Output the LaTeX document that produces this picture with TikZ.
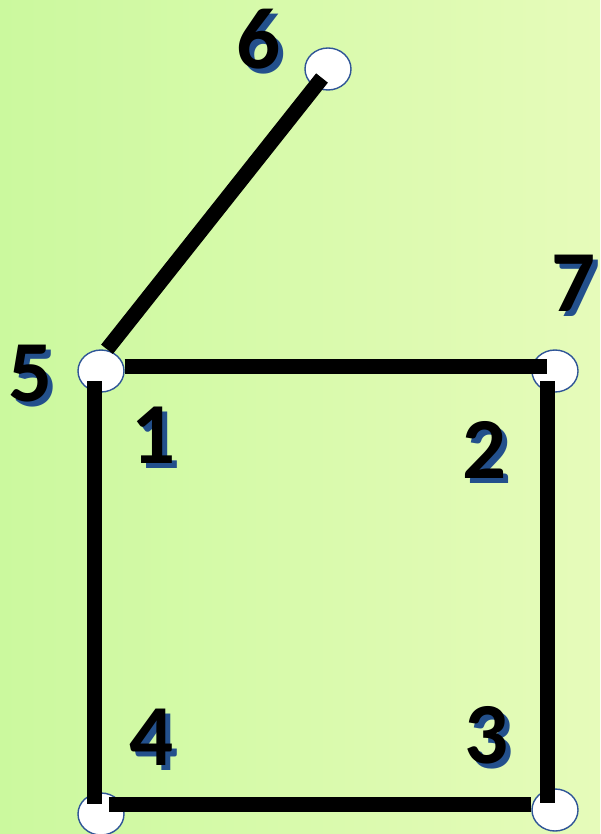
\documentclass[tikz,border=0pt]{standalone}
\usepackage{fontspec}
\setmainfont{Carlito}
\usetikzlibrary{positioning,shapes.geometric}
\definecolor{bgleft}{HTML}{CBF99E}
\definecolor{bgmid}{HTML}{F3FEC8}
\definecolor{bgright}{HTML}{E6FBBA}
\definecolor{vertexline}{HTML}{2F5597}
\definecolor{shadowblue}{HTML}{23508C}
% digit with a blue drop shadow, kept in one text
\newcommand{\shadownum}[1]{\makebox[0pt][l]{\hspace{5pt}\raisebox{-5pt}{\textcolor{shadowblue}{#1}}}#1}

\begin{document}
\begin{tikzpicture}[
  x=1pt, y=-1pt,
  vertex/.style={ellipse, draw=vertexline, line width=1.4pt, fill=white,
                 minimum width=46pt, minimum height=42pt, inner sep=0pt},
  edge/.style={line width=15pt, black},
  numlab/.style={font=\fontsize{87}{90}\selectfont\bfseries, inner sep=0pt}
]
% ================= background =================
\shade[left color=bgleft, middle color=bgmid, right color=bgright]
  (0,0) rectangle (600,834);
\useasboundingbox (0,0) rectangle (600,834);
% ================= vertices =================
\node[vertex] (n5) at (101,371) {};
\node[vertex] (n7) at (555,371) {};
\node[vertex] (n6) at (328,69)  {};
\node[vertex] (n4) at (101,814) {};
\node[vertex] (n3) at (555,810) {};
% ================= edges (drawn over the vertices) =================
\draw[edge] ([shift={(6pt,0pt)}]n5.north) -- ([shift={(-6pt,-9pt)}]n6.center);
\draw[edge] ([shift={(0pt,5pt)}]n5.east) -- ([shift={(-8pt,5pt)}]n7.center);
\draw[edge] ([shift={(-7pt,-10pt)}]n5.center) -- ([shift={(-7pt,10pt)}]n4.center);
\draw[edge] ([shift={(-8pt,-10pt)}]n7.center) -- ([shift={(-8pt,7pt)}]n3.center);
\draw[edge] ([shift={(8pt,10pt)}]n4.center) -- ([shift={(0pt,6pt)}]n3.west);
% ================= labels =================
\foreach \px/\py/\t in {31/376/5, 154/438/1, 574/286/7, 259/42/6,
                        485/452/2, 152/740/4, 487/738/3}{
  \node[numlab] (lab\t) at (\px,\py) {\shadownum{\t}};
}
\end{tikzpicture}
\end{document}
